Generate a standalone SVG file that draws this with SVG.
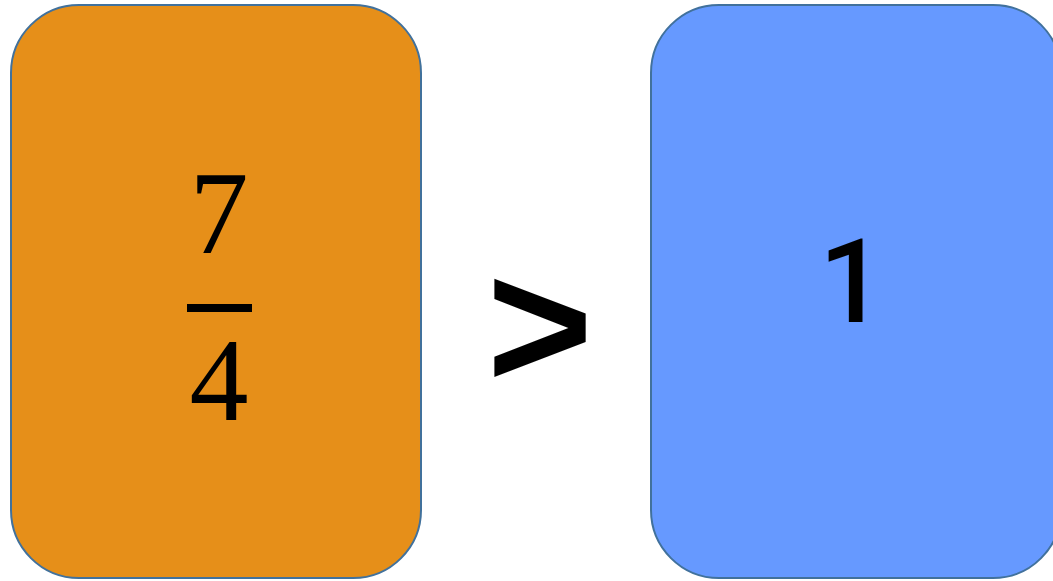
<svg xmlns="http://www.w3.org/2000/svg" width="1053" height="581" viewBox="0 0 1053 581">
<style>
.card{stroke:#41719C;stroke-width:2}
.serif{font-family:"Liberation Serif","Times New Roman",serif;font-size:118px;fill:#000}
.sans{font-family:"Liberation Sans",Arial,sans-serif;fill:#000}
.one{font-family:Roboto,"Liberation Sans",sans-serif;font-weight:500;fill:#000}
</style>
<rect width="1053" height="581" fill="#fff"/>
<g id="left-card">
<rect class="card" x="11" y="5" width="410" height="573" rx="68" ry="68" fill="#E68F19"/>
<text class="serif" x="219" y="253" text-anchor="middle">7</text>
<rect x="187" y="304" width="65" height="8" fill="#000"/>
<text class="serif" x="219" y="420" text-anchor="middle">4</text>
</g>
<g id="comparison">
<text class="sans" x="540" y="388" font-size="182" font-weight="bold" text-anchor="middle">&gt;</text>
</g>
<g id="right-card">
<rect class="card" x="651" y="5" width="410" height="573" rx="68" ry="68" fill="#6699FF"/>
<text class="one" x="852" y="322" font-size="116" text-anchor="middle">1</text>
</g>
<g id="connectors"/>
</svg>
